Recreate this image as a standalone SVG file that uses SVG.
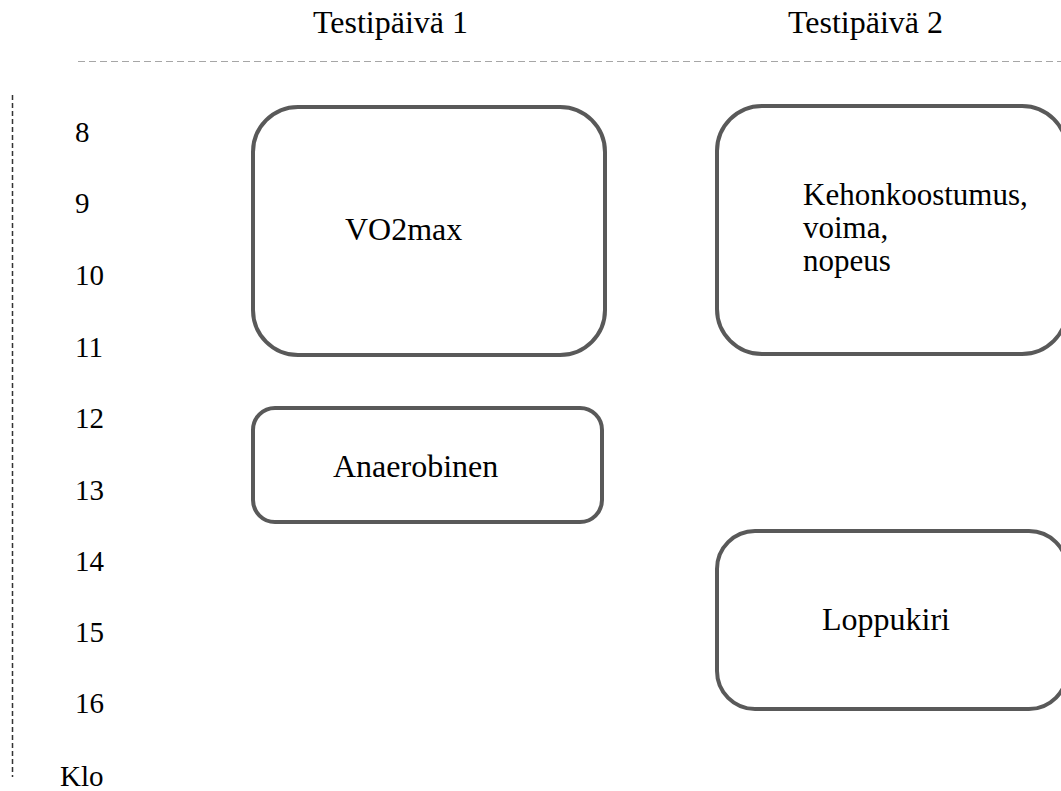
<svg xmlns="http://www.w3.org/2000/svg" width="1061" height="791" viewBox="0 0 1061 791" font-family="'Liberation Serif', 'DejaVu Serif', serif">
<style>
.hdr{font-size:32px}
.num{font-size:29px}
.lbl{font-size:32px}
.kl{font-size:31px}
.box{fill:#fff;stroke:#595959;stroke-width:4}
</style>
<rect width="1061" height="791" fill="#fff"/>
<g id="header" fill="#000">
<text class="hdr" x="313" y="33">Testipäivä 1</text>
<text class="hdr" x="788" y="33">Testipäivä 2</text>
</g>
<g id="axes">
<line x1="78" y1="61.5" x2="1061" y2="61.5" stroke="#a6a6a6" stroke-width="1.2" stroke-dasharray="7,4"/>
<line x1="12.5" y1="95" x2="12.5" y2="777" stroke="#333" stroke-width="1.5" stroke-dasharray="5,3"/>
</g>
<g id="times" fill="#000">
<text class="num" x="75" y="142">8</text>
<text class="num" x="75" y="213">9</text>
<text class="num" x="75" y="285">10</text>
<text class="num" x="75" y="357">11</text>
<text class="num" x="75" y="428">12</text>
<text class="num" x="75" y="500">13</text>
<text class="num" x="75" y="571">14</text>
<text class="num" x="75" y="642">15</text>
<text class="num" x="75" y="713">16</text>
<text class="num" x="60" y="786">Klo</text>
</g>
<g id="connectors"></g>
<g id="vo2max">
<rect class="box" x="253" y="107" width="352" height="248" rx="45" ry="45"/>
<text class="lbl" x="345" y="240">VO2max</text>
</g>
<g id="anaerobinen">
<rect class="box" x="253" y="408" width="349" height="114" rx="22" ry="22"/>
<text class="lbl" x="333" y="477">Anaerobinen</text>
</g>
<g id="kehonkoostumus">
<rect class="box" x="717" y="106" width="350" height="248" rx="45" ry="45"/>
<text class="kl" x="803" y="205">Kehonkoostumus,</text>
<text class="kl" x="803" y="238">voima,</text>
<text class="kl" x="803" y="271">nopeus</text>
</g>
<g id="loppukiri">
<rect class="box" x="717" y="531" width="350" height="178" rx="38" ry="38"/>
<text class="lbl" x="822" y="630">Loppukiri</text>
</g>
</svg>
